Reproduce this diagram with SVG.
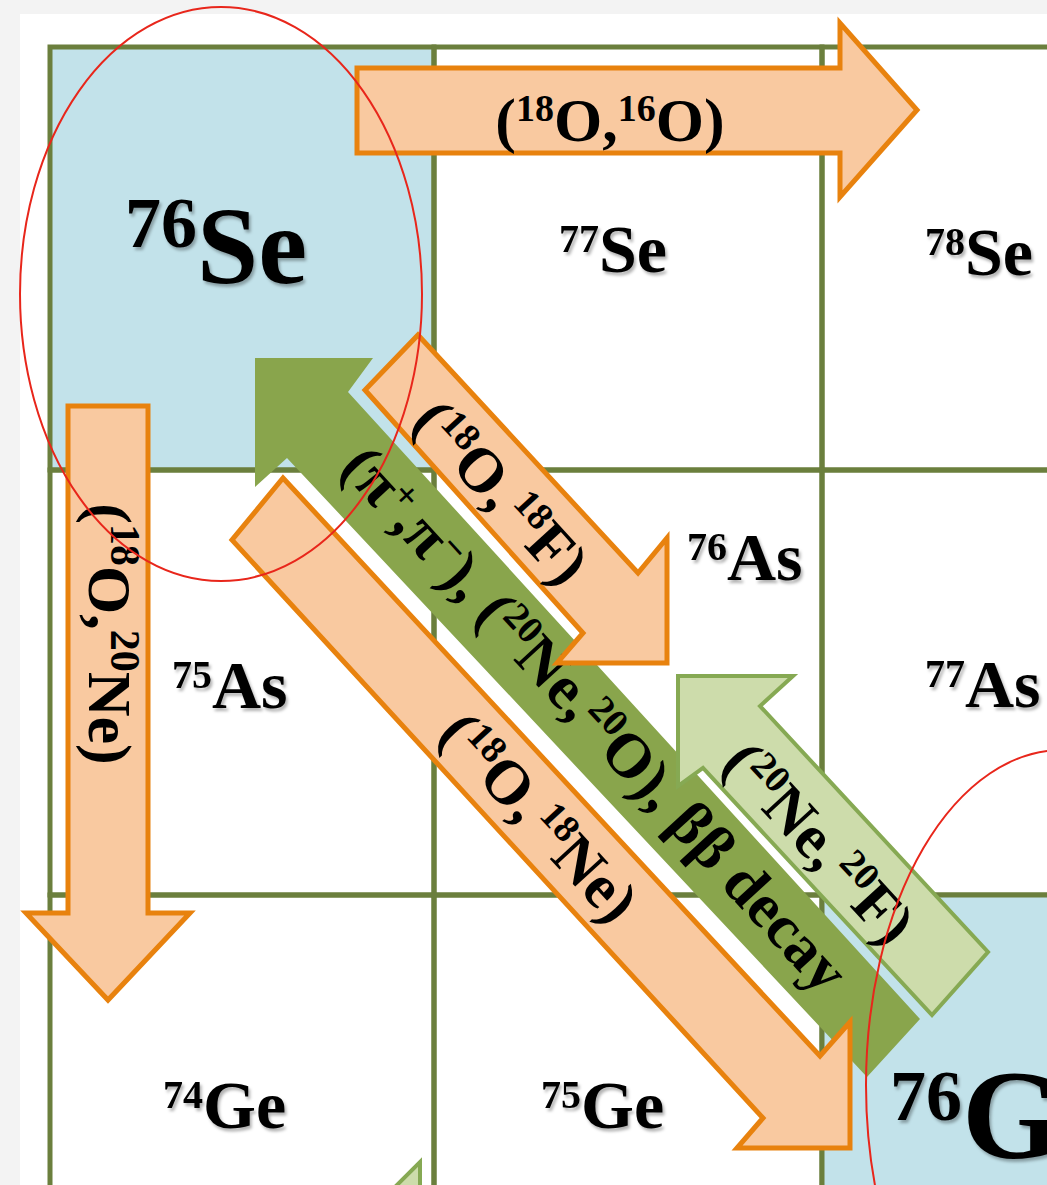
<svg xmlns="http://www.w3.org/2000/svg" width="1047" height="1185" viewBox="0 0 1047 1185">
<defs>
<style>
.cell{fill:none;stroke:#6b7f3d;stroke-width:5}
.blue{fill:#c2e2ea}
.nl{font-family:"Liberation Serif","Times New Roman",serif;font-weight:bold;fill:#000}
.sm{font-size:68px}
.big{font-size:110px}
.al{font-family:"Liberation Serif","Times New Roman",serif;font-weight:bold;font-size:62px;fill:#000}
.sup{font-size:38px}
.orange{fill:#f9c9a0;stroke:#e8820e;stroke-width:5}
.dgreen{fill:#89a54c}
.lgreen{fill:#cddcab;stroke:#86a953;stroke-width:4}
.ring{fill:none;stroke:#e8261b;stroke-width:2}
</style>
<filter id="sh" x="-10%" y="-10%" width="130%" height="130%">
<feDropShadow dx="2" dy="3" stdDeviation="1.8" flood-color="#000" flood-opacity="0.3"/>
</filter>
</defs>
<rect x="0" y="0" width="1047" height="1185" fill="#f3f3f3"/>
<rect x="20" y="14" width="1027" height="1171" fill="#ffffff"/>

<g id="nodes">
<g id="n-se76"><rect class="cell blue" x="50" y="47" width="384" height="423"/>
<text class="nl big" x="125" y="283" filter="url(#sh)"><tspan font-size="72" dy="-36">76</tspan><tspan dy="36">Se</tspan></text></g>
<g id="n-se77"><rect class="cell" x="434" y="47" width="388" height="423"/>
<text class="nl sm" x="559" y="272" filter="url(#sh)"><tspan font-size="40" dy="-20">77</tspan><tspan dy="20">Se</tspan></text></g>
<g id="n-se78"><rect class="cell" x="822" y="47" width="388" height="423"/>
<text class="nl sm" x="925" y="275" filter="url(#sh)"><tspan font-size="40" dy="-20">78</tspan><tspan dy="20">Se</tspan></text></g>
<g id="n-as75"><rect class="cell" x="50" y="470" width="384" height="425"/>
<text class="nl sm" x="172" y="708" filter="url(#sh)"><tspan font-size="40" dy="-20">75</tspan><tspan dy="20">As</tspan></text></g>
<g id="n-as76"><rect class="cell" x="434" y="470" width="388" height="425"/>
<text class="nl sm" x="687" y="580" filter="url(#sh)"><tspan font-size="40" dy="-20">76</tspan><tspan dy="20">As</tspan></text></g>
<g id="n-as77"><rect class="cell" x="822" y="470" width="388" height="425"/>
<text class="nl sm" x="925" y="707" filter="url(#sh)"><tspan font-size="40" dy="-20">77</tspan><tspan dy="20">As</tspan></text></g>
<g id="n-ge74"><rect class="cell" x="50" y="895" width="384" height="400"/>
<text class="nl sm" x="163" y="1128" filter="url(#sh)"><tspan font-size="40" dy="-20">74</tspan><tspan dy="20">Ge</tspan></text></g>
<g id="n-ge75"><rect class="cell" x="434" y="895" width="388" height="400"/>
<text class="nl sm" x="541" y="1128" filter="url(#sh)"><tspan font-size="40" dy="-20">75</tspan><tspan dy="20">Ge</tspan></text></g>
<g id="n-ge76"><rect class="cell blue" x="822" y="895" width="388" height="400"/>
<text class="nl" font-size="128" x="890" y="1158" filter="url(#sh)"><tspan font-size="72" dy="-38">76</tspan><tspan dy="38">Ge</tspan></text></g>
</g>

<g id="connectors">
<g id="c-dcx">
<polygon class="dgreen" points="255,358 373,358 348,392 920,1019 867,1077 287,458 255,487"/>
<text class="al" transform="translate(592,722) rotate(47.5)" x="0" y="16" text-anchor="middle">(π<tspan class="sup" dy="-20">+</tspan><tspan dy="20">,π</tspan><tspan class="sup" dy="-20">−</tspan><tspan dy="20">), (</tspan><tspan class="sup" dy="-20">20</tspan><tspan dy="20">Ne,</tspan><tspan class="sup" dy="-20">20</tspan><tspan dy="20">O), ββ decay</tspan></text>
</g>
<g id="c-18ne">
<polygon class="orange" points="283,478 820,1056 850,1022 850,1148 737,1148 763,1118 232,540"/>
<text class="al" transform="translate(536,820) rotate(47.5)" x="0" y="16" text-anchor="middle">(<tspan class="sup" dy="-20">18</tspan><tspan dy="20">O,</tspan><tspan class="sup" dx="6" dy="-20">18</tspan><tspan dy="20">Ne)</tspan></text>
</g>
<g id="c-18f">
<polygon class="orange" points="418,335 638,573 667,538 667,663 557,663 583,633 365,390"/>
<text class="al" transform="translate(498,495) rotate(47.5)" x="0" y="16" text-anchor="middle">(<tspan class="sup" dy="-20">18</tspan><tspan dy="20">O,</tspan><tspan class="sup" dx="6" dy="-20">18</tspan><tspan dy="20">F)</tspan></text>
</g>
<g id="c-20f">
<polygon class="lgreen" points="678,676 793,676 760,706 988,952 932,1015 703,768 678,786"/>
<text class="al" transform="translate(816,846) rotate(47.5)" x="0" y="16" text-anchor="middle">(<tspan class="sup" dy="-20">20</tspan><tspan dy="20">Ne,</tspan><tspan class="sup" dx="6" dy="-20">20</tspan><tspan dy="20">F)</tspan></text>
</g>
<g id="c-16o">
<polygon class="orange" points="357,68 840,68 840,23 917,110 840,197 840,153 357,153"/>
<text class="al" x="610" y="141" text-anchor="middle">(<tspan class="sup" dy="-20">18</tspan><tspan dy="20">O,</tspan><tspan class="sup" dy="-20">16</tspan><tspan dy="20">O)</tspan></text>
</g>
<g id="c-20ne">
<polygon class="orange" points="68,406 148,406 148,913 190,913 108,1000 26,913 68,913"/>
<text class="al" font-size="68" transform="translate(107,634) rotate(90)" x="0" y="18" text-anchor="middle">(<tspan font-size="42" dy="-22">18</tspan><tspan dy="22">O,</tspan><tspan font-size="42" dy="-22">20</tspan><tspan dy="22">Ne)</tspan></text>
</g>
<g id="c-partial">
<polygon class="lgreen" points="420,1162 420,1190 392,1190"/>
</g>
</g>

<g id="highlights">
<ellipse class="ring" cx="221" cy="294" rx="201" ry="287"/>
<ellipse class="ring" cx="1062" cy="1085" rx="196" ry="335"/>
</g>
</svg>
